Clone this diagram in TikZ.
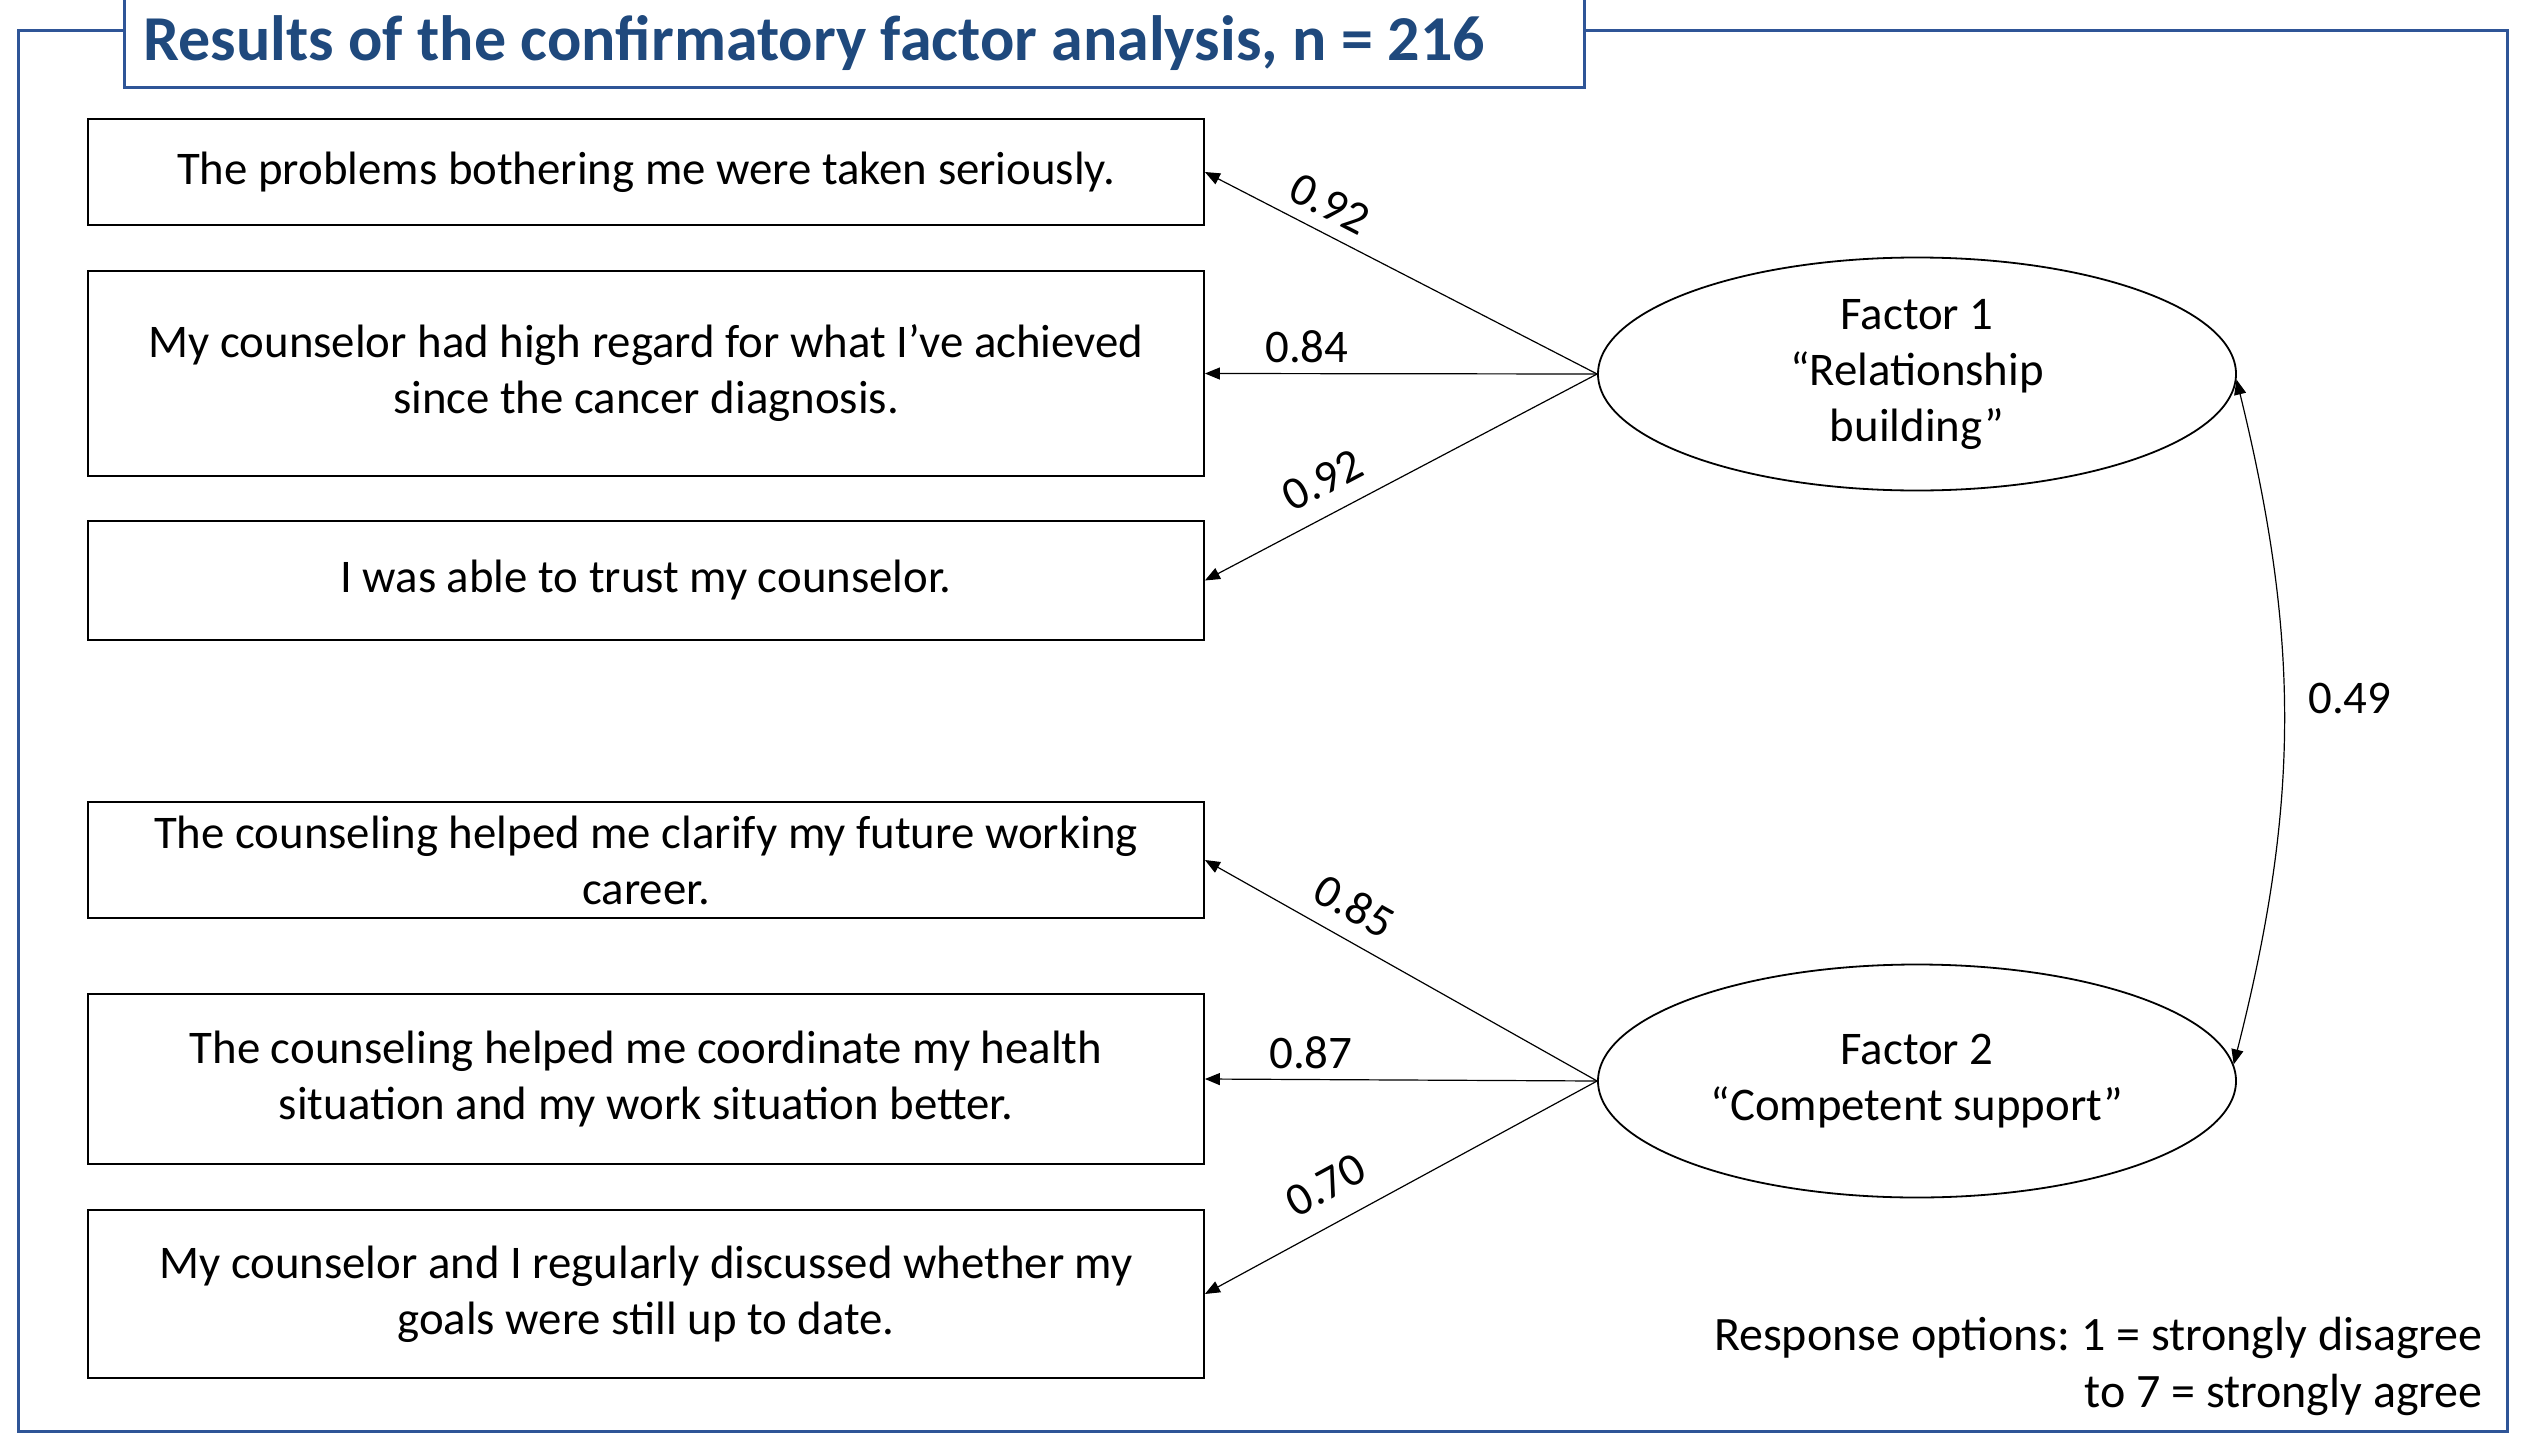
\documentclass[tikz,border=0pt]{standalone}
\usepackage{fontspec}
\setmainfont{Carlito}
\usetikzlibrary{arrows.meta,shapes.geometric}
\definecolor{navy}{RGB}{31,73,125}
\definecolor{framec}{RGB}{47,85,151}
\frenchspacing
\begin{document}
\begin{tikzpicture}[x=0.5pt,y=-0.5pt,
  every node/.style={font=\fontsize{23.4}{28}\selectfont, inner sep=0pt},
  item/.style={draw, line width=0.9pt, minimum width=558pt, align=center},
  factor/.style={draw, ellipse, line width=0.9pt, minimum width=319pt, minimum height=116.5pt, align=center},
  load/.style={line width=0.6pt, -{Triangle[length=7.5pt,width=6pt]}},
  lbl/.style={sloped, above, inner sep=5pt}]
\useasboundingbox (0,0) rectangle (2521,1434);
\draw[framec, line width=1.5pt] (18,31) rectangle (2507,1431);
\draw[framec, line width=1.5pt, fill=white] (124,-10) rectangle (1584,88);
\node[anchor=west, font=\fontsize{32}{38}\selectfont\bfseries, text=navy] (title) at (143,43) {Results of the confirmatory factor analysis, n = 216};

\node[item, minimum height=53pt] (b1) at (646,172) {The problems bothering me were taken seriously.};
\node[item, minimum height=102.5pt] (b2) at (646,373.5) {My counselor had high regard for what I’ve achieved\\since the cancer diagnosis.};
\node[item, minimum height=59.5pt] (b3) at (646,580.5) {I was able to trust my counselor.};
\node[item, minimum height=58pt] (b4) at (646,860) {The counseling helped me clarify my future working\\career.};
\node[item, minimum height=85pt] (b5) at (646,1079) {The counseling helped me coordinate my health\\situation and my work situation better.};
\node[item, minimum height=84pt] (b6) at (646,1294) {My counselor and I regularly discussed whether my\\goals were still up to date.};

\node[factor] (f1) at (1917,374) {Factor 1\\“Relationship\\building”};
\node[factor] (f2) at (1917,1081) {Factor 2\\“Competent support”};

\draw[load] (f1.west) -- node[lbl, pos=0.715, inner sep=6.5pt] {0.92} (b1.east);
\draw[load] (f1.west) -- node[lbl, pos=0.74] {0.84} (b2.east);
\draw[load] (f1.west) -- node[lbl, pos=0.66, inner sep=9pt] {0.92} (b3.east);
\draw[load] (f2.west) -- node[lbl, pos=0.66, inner sep=8.5pt] {0.85} (b4.east);
\draw[load] (f2.west) -- node[lbl, pos=0.73] {0.87} (b5.east);
\draw[load] (f2.west) -- node[lbl, pos=0.645, inner sep=11pt] {0.70} (b6.east);

\draw[line width=0.6pt, {Triangle[length=7.5pt,width=6pt]}-{Triangle[length=7.5pt,width=6pt]}] (f1.-1) to[bend left=14] node[midway, anchor=west, xshift=12pt, yshift=12pt] (corr) {0.49} (f2.3);

\node[anchor=east, align=right, font=\fontsize{24}{28.5}\selectfont] (resp) at (2483,1366) {Response options: 1 = strongly disagree\\to 7 = strongly agree};
\end{tikzpicture}
\end{document}
